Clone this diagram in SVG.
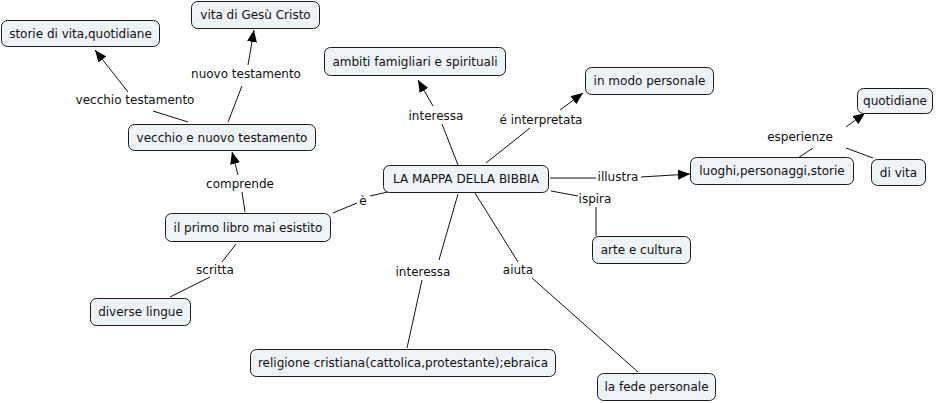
<svg xmlns="http://www.w3.org/2000/svg" width="938" height="403" viewBox="0 0 938 403">
<style>
.n rect{fill:#eef3f6;stroke:#1a1a1a;stroke-width:1}
text{font-family:"DejaVu Sans",Verdana,sans-serif;font-size:12px;fill:#111;text-anchor:middle}
.c line{stroke:#111;stroke-width:1}
.lbl{fill:#fff}
</style>
<defs>
<marker id="a" viewBox="0 0 12 10" refX="12" refY="5" markerWidth="12" markerHeight="10" markerUnits="userSpaceOnUse" orient="auto">
<path d="M0,0 L12,5 L0,10 Z" fill="#000"/>
</marker>
</defs>
<rect width="938" height="403" fill="#fff"/>
<g id="connectors" class="c">
<line x1="188" y1="122" x2="153" y2="111"/>
<line x1="128" y1="92" x2="95" y2="50" marker-end="url(#a)"/>
<line x1="228" y1="122" x2="242" y2="86"/>
<line x1="248" y1="65" x2="254" y2="30" marker-end="url(#a)"/>
<line x1="245" y1="212" x2="242" y2="192"/>
<line x1="238" y1="175" x2="232" y2="152" marker-end="url(#a)"/>
<line x1="333" y1="213" x2="357" y2="203"/>
<line x1="370" y1="196" x2="392" y2="191"/>
<line x1="236" y1="244" x2="222" y2="262"/>
<line x1="210" y1="277" x2="170" y2="297"/>
<line x1="458" y1="165" x2="442" y2="124"/>
<line x1="433" y1="106" x2="418" y2="80" marker-end="url(#a)"/>
<line x1="486" y1="163" x2="530" y2="128"/>
<line x1="560" y1="110" x2="583" y2="93" marker-end="url(#a)"/>
<line x1="550" y1="178" x2="596" y2="178"/>
<line x1="641" y1="177" x2="690" y2="174" marker-end="url(#a)"/>
<line x1="551" y1="191" x2="578" y2="196"/>
<line x1="596" y1="207" x2="596" y2="236"/>
<line x1="458" y1="194" x2="439" y2="260"/>
<line x1="422" y1="280" x2="407" y2="348"/>
<line x1="475" y1="193" x2="518" y2="262"/>
<line x1="532" y1="278" x2="638" y2="372"/>
<line x1="798" y1="158" x2="813" y2="148"/>
<line x1="846" y1="127" x2="865" y2="113" marker-end="url(#a)"/>
<line x1="846" y1="148" x2="873" y2="158"/>
</g>
<g id="labels">
<text x="135" y="104">vecchio testamento</text>
<text x="246" y="78">nuovo testamento</text>
<text x="240" y="188">comprende</text>
<text x="363" y="205">è</text>
<text x="215" y="274">scritta</text>
<text x="436" y="120">interessa</text>
<text x="541" y="124">é interpretata</text>
<text x="618" y="181">illustra</text>
<text x="595" y="203">ispira</text>
<text x="423" y="276">interessa</text>
<text x="518" y="274">aiuta</text>
<text x="800" y="141">esperienze</text>
</g>
<g id="n1" class="n"><rect x="191.5" y="1.5" width="128" height="27" rx="6"/><text x="255.5" y="19">vita di Gesù Cristo</text></g>
<g id="n2" class="n"><rect x="1.5" y="20.5" width="158" height="26" rx="6"/><text x="80.5" y="38">storie di vita,quotidiane</text></g>
<g id="n3" class="n"><rect x="324.5" y="47.5" width="181" height="28" rx="6"/><text x="415" y="66">ambiti famigliari e spirituali</text></g>
<g id="n4" class="n"><rect x="585.5" y="67.5" width="128" height="27" rx="6"/><text x="649.5" y="85">in modo personale</text></g>
<g id="n5" class="n"><rect x="128.5" y="124.5" width="187" height="26" rx="6"/><text x="222" y="142">vecchio e nuovo testamento</text></g>
<g id="n6" class="n"><rect x="383.5" y="165.5" width="165" height="27" rx="6"/><text x="466" y="183">LA MAPPA DELLA BIBBIA</text></g>
<g id="n7" class="n"><rect x="690.5" y="157.5" width="163" height="27" rx="6"/><text x="772" y="175">luoghi,personaggi,storie</text></g>
<g id="n8" class="n"><rect x="857.5" y="88.5" width="75" height="25" rx="6"/><text x="895" y="105">quotidiane</text></g>
<g id="n9" class="n"><rect x="871.5" y="159.5" width="54" height="26" rx="6"/><text x="898.5" y="177">di vita</text></g>
<g id="n10" class="n"><rect x="165.5" y="213.5" width="165" height="28" rx="6"/><text x="248" y="232">il primo libro mai esistito</text></g>
<g id="n11" class="n"><rect x="90.5" y="298.5" width="100" height="27" rx="6"/><text x="140.5" y="316">diverse lingue</text></g>
<g id="n12" class="n"><rect x="592.5" y="236.5" width="98" height="27" rx="6"/><text x="641.5" y="254">arte e cultura</text></g>
<g id="n13" class="n"><rect x="250.5" y="349.5" width="305" height="27" rx="6"/><text x="403" y="367">religione cristiana(cattolica,protestante);ebraica</text></g>
<g id="n14" class="n"><rect x="597.5" y="373.5" width="118" height="27" rx="6"/><text x="656.5" y="391">la fede personale</text></g>
</svg>
